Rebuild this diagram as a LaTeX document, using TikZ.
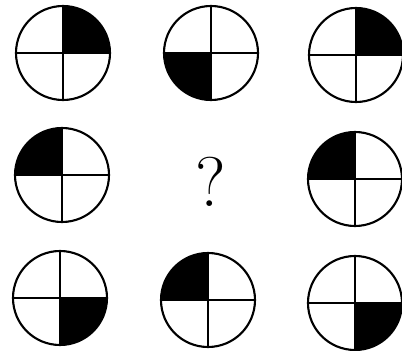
\documentclass[tikz,border=0pt]{standalone}
\usepackage{amsmath}
\usetikzlibrary{calc,positioning}

\tikzset{
    rim/.style={line width=1.5pt},
    cross/.style={line width=1.1pt},
    quarter/.style={fill=black}
}

\begin{document}
\begin{tikzpicture}[x=0.025cm,y=0.025cm]
    \useasboundingbox (0,0) rectangle (402,350);

    % Draw the eight discs: centre x, centre y, start angle of the black quarter
    \foreach \cx/\cy/\q in {63/297/0, 211/297/180, 356/295/0,
                            62/175/90, 355/171/90,
                            60/52/270, 208/50/90, 355/47/270}
    {
        \fill[quarter] (\cx,\cy) -- ++(\q:47) arc (\q:\q+90:47) -- cycle;
        \draw[cross] (\cx-47,\cy) -- (\cx+47,\cy);
        \draw[cross] (\cx,\cy-47) -- (\cx,\cy+47);
        \draw[rim] (\cx,\cy) circle (47);
    }

    % Draw the missing one
    \node (q) at (211,168) {\fontsize{50}{50}\selectfont ?};
\end{tikzpicture}
\end{document}
